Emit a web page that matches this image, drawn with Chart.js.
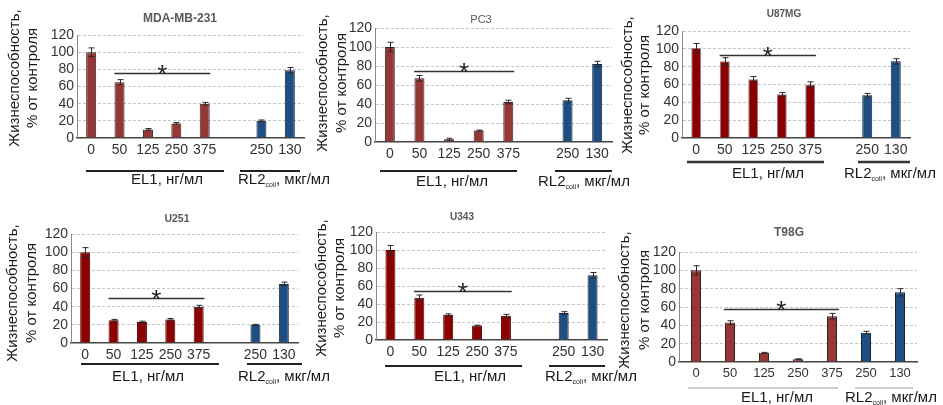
<!DOCTYPE html>
<html>
<head>
<meta charset="utf-8">
<script src="https://cdn.jsdelivr.net/npm/chart.js"></script>
<style>
  html, body { margin: 0; padding: 0; background: #fff; }
  #wrap { position: relative; width: 943px; height: 405px; overflow: hidden; }
  #wrap canvas { position: absolute; left: 0; top: 0; }
</style>
</head>
<body>
<div id="wrap"></div>
<script>
// doses (x categories)
const el1Doses = ['0', '50', '125', '250', '375'];
const rl2Doses = ['250', '130'];
const cellLines = ['MDA-MB-231', 'PC3', 'U87MG', 'U251', 'U343', 'T98G'];
const yTicks = [0, 20, 40, 60, 80, 100, 120];

// viability, % of control: 5 EL1 doses then 2 RL2coli doses
const mdaVals = [100, 65, 10, 17, 40, 20, 79];
const mdaErr  = [5, 3, 1, 1, 1.5, 1, 3];
const pc3Vals = [100, 67, 3, 12, 42, 44, 82];
const pc3Err  = [5, 3, 1, 0.5, 2, 2, 3];
const u87Vals = [101, 86, 66, 49, 60, 48, 86];
const u87Err  = [5, 4, 3, 2, 3, 2, 3];
const u251Vals = [100, 25, 23, 26, 40, 20, 65];
const u251Err  = [5, 1, 1, 1, 1.5, 0.5, 2];
const u343Vals = [100, 47, 28, 16, 27, 30, 72];
const u343Err  = [5, 3, 1, 0.5, 1.5, 1.5, 3];
const t98Vals = [100, 43, 10, 3, 50, 32, 76];
const t98Err  = [5, 2, 0.5, 0.5, 3, 1.5, 4];
// level of the "*" bracket (% units)
const starLevels = [76, 75, 93, 50, 55, 58];

const blue = '#1F4E80', blueBorder = '#10263f';

// placement of each panel on the page
const panels = [
  { vals: mdaVals, errs: mdaErr, gap: true, axisX: 77, y120: 35, y0: 138, right: 304,
    red: '#953735', redBorder: '#3b1f1f', title: [180, 19, 'bold 12px'], yTitle: [15, 33, 78],
    el1Line: [86, 224, 171], rl2Line: [240, 300, 171], el1Text: [167, 180], rl2Text: [238, 180], lineColor: '#222', lineW: 2 },
  { vals: pc3Vals, errs: pc3Err, gap: true, axisX: 375, y120: 28, y0: 142, right: 612,
    red: '#953735', redBorder: '#3b1f1f', title: [481, 20, '11px'], yTitle: [323, 342, 83],
    el1Line: [380, 517, 171], rl2Line: [555, 612, 171], el1Text: [452, 182], rl2Text: [538, 182], lineColor: '#222', lineW: 2 },
  { vals: u87Vals, errs: u87Err, gap: true, axisX: 682, y120: 31, y0: 138, right: 910,
    red: '#8B0000', redBorder: '#888', title: [784, 14, 'bold 10px'], yTitle: [628, 645, 85],
    el1Line: [687, 824, 162], rl2Line: [858, 910, 162], el1Text: [768, 174], rl2Text: [844, 174], lineColor: '#333', lineW: 2.5 },
  { vals: u251Vals, errs: u251Err, gap: true, axisX: 71, y120: 234, y0: 343, right: 298,
    red: '#8B0000', redBorder: '#5a0000', title: [177, 219, 'bold 10.5px'], yTitle: [13, 32, 293],
    el1Line: [81, 219, 364], rl2Line: [247, 302, 364], el1Text: [148, 377], rl2Text: [238, 377], lineColor: '#222', lineW: 2 },
  { vals: u343Vals, errs: u343Err, gap: true, axisX: 376, y120: 232, y0: 340, right: 607,
    red: '#8B0000', redBorder: '#5a0000', title: [462, 217, 'bold 10px'], yTitle: [322, 340, 288],
    el1Line: [385, 522, 366], rl2Line: [549, 605, 366], el1Text: [470, 377], rl2Text: [545, 377], lineColor: '#222', lineW: 2 },
  { vals: t98Vals, errs: t98Err, gap: false, axisX: 679, y120: 252, y0: 362, right: 917,
    red: '#953735', redBorder: '#3b1f1f', title: [789, 233, 'bold 12px'], yTitle: [625, 645, 300],
    el1Line: [688, 838, 388], rl2Line: [855, 913, 388], el1Text: [777, 398], rl2Text: [845, 398], lineColor: '#999', lineW: 1 }
];

Chart.defaults.font.family = '"Liberation Sans", Arial, sans-serif';

const Y_W = 40, X_H = 25;

const decor = {
  id: 'decor',
  afterDatasetsDraw(chart, args, o) {
    const ctx = chart.ctx, x = chart.scales.x, y = chart.scales.y;
    const ds = chart.data.datasets[0];
    const meta = chart.getDatasetMeta(0);
    ctx.save();
    // error bars
    ctx.strokeStyle = '#2a2a2a';
    ctx.lineWidth = 1;
    meta.data.forEach((bar, i) => {
      const v = ds.data[i];
      if (v == null) return;
      const e = ds.errors[i];
      const cx = Math.round(bar.x) + 0.5;
      const t = y.getPixelForValue(v + e), b = y.getPixelForValue(v - e);
      ctx.beginPath();
      ctx.moveTo(cx, t); ctx.lineTo(cx, b);
      ctx.moveTo(cx - 3, t); ctx.lineTo(cx + 3, t);
      ctx.moveTo(cx - 3, b); ctx.lineTo(cx + 3, b);
      ctx.stroke();
    });
    // significance bracket
    const w = x.getPixelForValue(1) - x.getPixelForValue(0);
    const sx0 = x.getPixelForValue(1) - 0.18 * w, sx1 = x.getPixelForValue(4) + 0.2 * w;
    const sy = Math.round(y.getPixelForValue(o.starAt)) + 0.5;
    ctx.strokeStyle = '#333';
    ctx.lineWidth = 1.5;
    ctx.beginPath();
    ctx.moveTo(sx0, sy); ctx.lineTo(sx1, sy);
    ctx.stroke();
    ctx.fillStyle = '#222';
    ctx.font = '26px "Liberation Sans", Arial';
    ctx.textAlign = 'center';
    ctx.textBaseline = 'alphabetic';
    ctx.fillText('*', (sx0 + sx1) / 2, sy + 9);
    ctx.restore();
  },
  afterDraw(chart, args, o) {
    const ctx = chart.ctx, p = o.panel;
    ctx.save();
    // panel title
    ctx.fillStyle = '#595959';
    ctx.font = p.title[2] + ' "Liberation Sans", Arial';
    ctx.textAlign = 'center';
    ctx.textBaseline = 'middle';
    ctx.fillText(o.name, p.title[0], p.title[1]);
    // y axis title
    ctx.fillStyle = '#1a1a1a';
    ctx.font = '15px "Liberation Sans", Arial';
    [['Жизнеспособность,', p.yTitle[0]], ['% от контроля', p.yTitle[1]]].forEach(([txt, cx]) => {
      ctx.save();
      ctx.translate(cx, p.yTitle[2]);
      ctx.rotate(-Math.PI / 2);
      ctx.fillText(txt, 0, 0);
      ctx.restore();
    });
    // group lines
    ctx.strokeStyle = p.lineColor;
    ctx.lineWidth = p.lineW;
    [p.el1Line, p.rl2Line].forEach(l => {
      ctx.beginPath();
      ctx.moveTo(l[0], l[2]); ctx.lineTo(l[1], l[2]);
      ctx.stroke();
    });
    // group labels
    ctx.fillStyle = '#1a1a1a';
    ctx.font = '15px "Liberation Sans", Arial';
    ctx.textAlign = 'center';
    ctx.fillText('EL1, нг/мл', p.el1Text[0], p.el1Text[1]);
    ctx.textAlign = 'left';
    let tx = p.rl2Text[0];
    const ty = p.rl2Text[1];
    ctx.fillText('RL2', tx, ty);
    tx += ctx.measureText('RL2').width;
    ctx.font = '7px "Liberation Sans", Arial';
    ctx.fillText('coli', tx, ty + 5);
    tx += ctx.measureText('coli').width;
    ctx.font = '15px "Liberation Sans", Arial';
    ctx.fillText(', мкг/мл', tx, ty);
    ctx.restore();
  }
};

const wrap = document.getElementById('wrap');

panels.forEach((p, k) => {
  const canvas = document.createElement('canvas');
  canvas.width = 943;
  canvas.height = 405;
  wrap.appendChild(canvas);

  const labels = p.gap ? [...el1Doses, '', ...rl2Doses] : [...el1Doses, ...rl2Doses];
  const data = p.gap ? [...p.vals.slice(0, 5), null, ...p.vals.slice(5)] : p.vals.slice();
  const errors = p.gap ? [...p.errs.slice(0, 5), null, ...p.errs.slice(5)] : p.errs.slice();
  const nEl = el1Doses.length;
  const bg = labels.map((_, i) => i < nEl ? p.red : blue);
  const bd = labels.map((_, i) => i < nEl ? p.redBorder : blueBorder);
  const catW = (p.right - p.axisX) / labels.length;

  new Chart(canvas, {
    type: 'bar',
    data: {
      labels: labels,
      datasets: [{
        data: data,
        errors: errors,
        backgroundColor: bg,
        borderColor: bd,
        borderWidth: 1,
        barPercentage: 10 / catW,
        categoryPercentage: 1
      }]
    },
    options: {
      responsive: false,
      animation: false,
      layout: {
        padding: {
          left: p.axisX - Y_W,
          top: p.y120,
          right: 943 - p.right,
          bottom: 405 - p.y0 - X_H
        }
      },
      plugins: {
        legend: { display: false },
        tooltip: { enabled: false },
        decor: { panel: p, name: cellLines[k], starAt: starLevels[k] }
      },
      scales: {
        x: {
          afterFit: s => { s.height = X_H; },
          grid: { display: false, drawTicks: false },
          border: { display: true, color: '#444', width: 1.5 },
          ticks: { color: '#333', font: { size: k === 5 ? 13 : 14 }, padding: 4, autoSkip: false, maxRotation: 0 }
        },
        y: {
          min: 0,
          max: 120,
          afterFit: s => { s.width = Y_W; },
          afterBuildTicks: s => { s.ticks = yTicks.map(v => ({ value: v })); },
          grid: {
            drawTicks: false,
            color: c => c.tick && c.tick.value === 0 ? 'rgba(0,0,0,0)' : '#c4c4c4'
          },
          border: { display: true, color: '#8a8a8a', width: 1, dash: [3, 2] },
          ticks: { color: '#333', font: { size: 14 }, padding: 3, autoSkip: false }
        }
      }
    },
    plugins: [decor]
  });
});
</script>
</body>
</html>
